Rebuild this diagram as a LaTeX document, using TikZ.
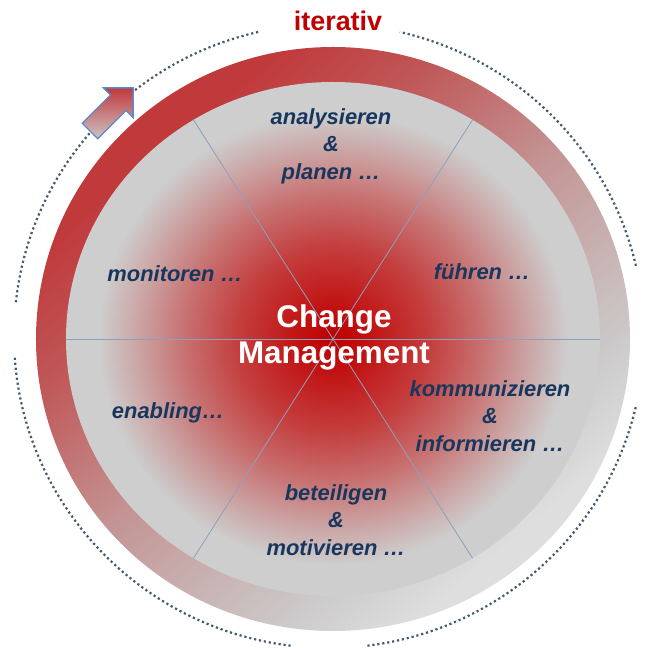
\documentclass[tikz,border=0pt]{standalone}
\usepackage{fontspec}
\setmainfont{Liberation Sans}
\usepackage{tikz}
\usetikzlibrary{shapes,arrows}

\definecolor{ringred}{RGB}{192,57,59}
\definecolor{ringmid}{RGB}{192,86,86}
\definecolor{ringpink}{RGB}{196,148,148}
\definecolor{ringgray}{RGB}{204,202,202}
\definecolor{ringlight}{RGB}{222,222,222}
\definecolor{diskgray}{RGB}{206,206,206}
\definecolor{glowred}{RGB}{192,0,0}
\definecolor{textnavy}{RGB}{23,55,94}
\definecolor{spokecol}{RGB}{140,160,190}
\definecolor{dotcol}{RGB}{70,90,110}
\definecolor{arrowblue}{RGB}{91,138,198}
\definecolor{arrowgray}{RGB}{205,195,198}

\pgfdeclareverticalshading{ringfade}{100bp}{color(0bp)=(ringlight); color(27bp)=(ringlight); color(34bp)=(ringgray); color(50bp)=(ringpink); color(63bp)=(ringmid); color(72bp)=(ringred); color(100bp)=(ringred)}
\pgfdeclareradialshading{redglow}{\pgfpoint{0bp}{0bp}}{color(0bp)=(glowred); color(3bp)=(glowred!92!diskgray); color(9bp)=(glowred!70!diskgray); color(14bp)=(glowred!45!diskgray); color(18bp)=(glowred!22!diskgray); color(22bp)=(diskgray); color(50bp)=(diskgray)}

\begin{document}
\begin{tikzpicture}[x=1bp,y=1bp,
  lbl/.style={text=textnavy,font=\fontsize{22}{27.5}\selectfont\bfseries\itshape,align=center},
  dotline/.style={dotcol,line width=2.2bp,dash pattern=on 2.2bp off 2.8bp}]
\useasboundingbox (-333,-310) rectangle (313,338);
\coordinate (ctr) at (0,-1);
\coordinate (dc) at (-4,2);
% dotted circle
\foreach \s/\e in {13/77,103/174,184/263,277/347}
  \draw[dotline] ([shift={(\s:315 and 312)}]dc) arc[start angle=\s,end angle=\e,x radius=315,y radius=312];
% ring and disk
\shade[shading=ringfade,shading angle=40] (ctr) ellipse [x radius=297,y radius=292];
\shade[shading=redglow] (ctr) ellipse [x radius=267,y radius=257];
\foreach \a in {58.5,121.5,238.5,301.5}
  \draw[spokecol,line width=0.8bp] (ctr) -- ([shift={(\a:267 and 257)}]ctr);
\draw[spokecol,line width=0.8bp] ([shift={(180:267 and 257)}]ctr) -- ([shift={(0:267 and 257)}]ctr);
% arrow
\draw[arrowblue,line width=1.3bp,top color=ringred,bottom color=arrowgray,shift={(-243,207)},rotate=45]
  (0,-11) -- (40,-11) -- (40,-21) -- (61,0) -- (40,21) -- (40,11) -- (0,11) -- cycle;
\node[text=glowred,font=\fontsize{27}{32}\selectfont\bfseries] (iter) at (5,317) {iterativ};
\node[lbl] (analyse) at (-2,192) {analysieren\\\&\\planen …};
\node[lbl] (fuehren) at (149,66) {führen …};
\node[lbl] (monit) at (-158,64) {monitoren …};
\node[lbl] (kommun) at (157,-78) {kommunizieren\\\&\\informieren …};
\node[lbl] (enabl) at (-165,-75) {enabling…};
\node[lbl] (beteil) at (3,-182) {beteiligen\\\&\\motivieren …};
\node[white,font=\fontsize{31.5}{37}\selectfont\bfseries,align=center] (change) at (1,0.5) {Change\\Management};
\end{tikzpicture}
\end{document}
